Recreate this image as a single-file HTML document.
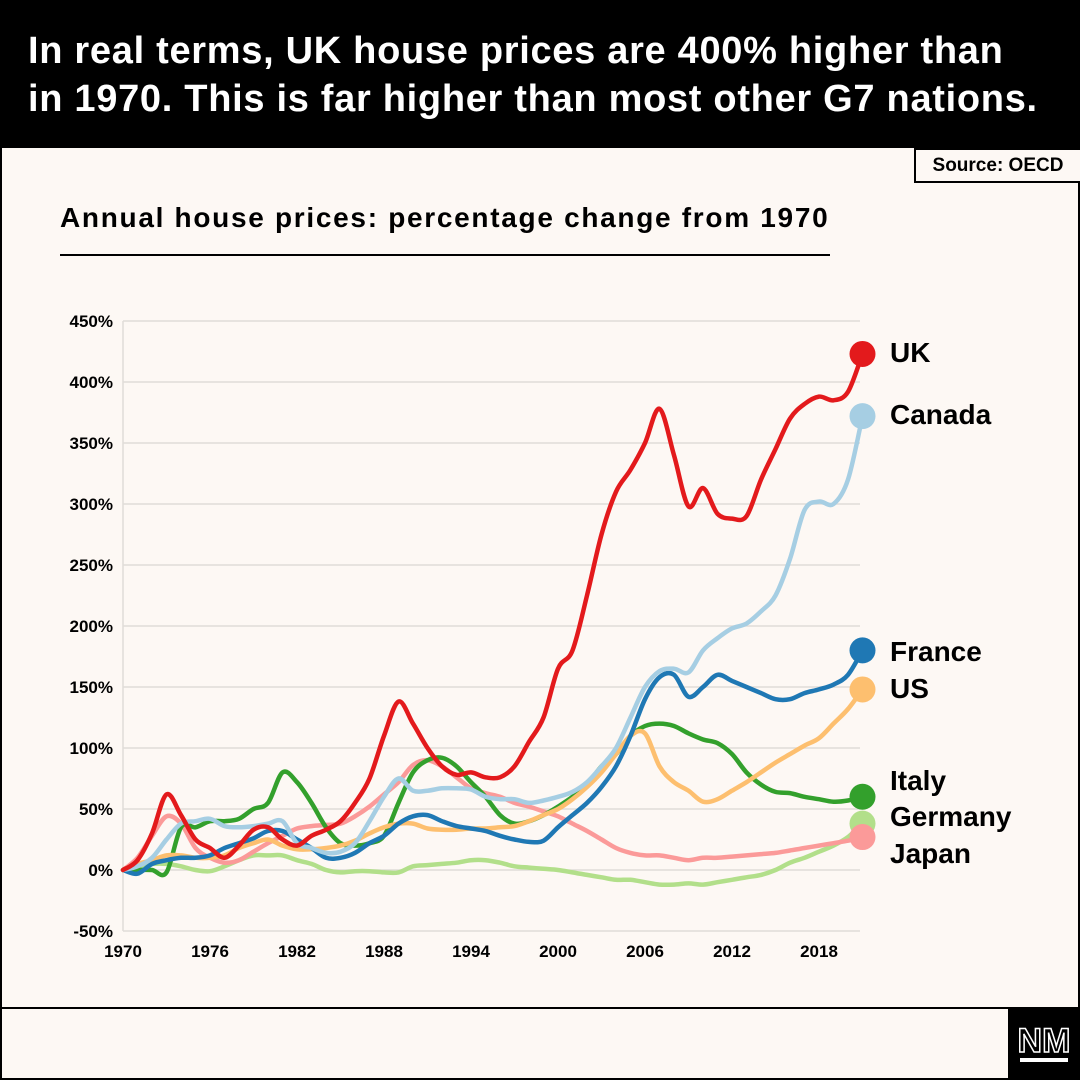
<!DOCTYPE html>
<html><head><meta charset="utf-8"><style>
html,body{margin:0;padding:0;}
body{width:1080px;height:1080px;background:#fdf8f4;font-family:"Liberation Sans",sans-serif;position:relative;overflow:hidden;}
#frame{position:absolute;left:0;top:0;width:1076px;height:1076px;border:2px solid #000;}
#header{position:absolute;left:0;top:0;width:1080px;height:148px;background:#000;}
#title{position:absolute;left:28px;top:27px;color:#fff;font-weight:bold;font-size:38px;line-height:48px;letter-spacing:0.7px;margin:0;white-space:nowrap;}
#source{position:absolute;left:914px;top:148px;width:166px;height:35px;border:2px solid #000;border-right:none;box-sizing:border-box;font-weight:bold;font-size:19px;line-height:31px;text-align:center;background:#fdf8f4;}
#subtitle{position:absolute;left:60px;top:202px;font-weight:bold;font-size:28px;letter-spacing:1.7px;white-space:nowrap;}
#rule{position:absolute;left:60px;top:254px;width:770px;height:2px;background:#000;}
#footer-line{position:absolute;left:0;top:1007px;width:1080px;height:2px;background:#000;}
#logo{position:absolute;left:1008px;top:1008px;width:72px;height:72px;background:#000;}
svg{position:absolute;left:0;top:0;}
</style></head><body>
<div id="frame"></div>
<div id="header"><h1 id="title">In real terms, UK house prices are 400% higher than<br>in 1970. This is far higher than most other G7 nations.</h1></div>
<div id="source">Source: OECD</div>
<div id="subtitle">Annual house prices: percentage change from 1970</div>
<div id="rule"></div>
<div id="footer-line"></div>
<div id="logo">
<svg width="72" height="72" viewBox="0 0 72 72"><text x="36" y="44" text-anchor="middle" font-family="Liberation Sans" font-weight="bold" font-size="34" fill="#000" stroke="#fff" stroke-width="1.5">NM</text><rect x="12" y="50" width="48" height="4" fill="#fff"/></svg>
</div>
<svg id="chart" width="1080" height="1080"></svg>
<script>
const years = [];
for (let y = 1970; y <= 2021; y++) years.push(y);
const yTicks = [-50,0,50,100,150,200,250,300,350,400,450];
const xTicks = [1970,1976,1982,1988,1994,2000,2006,2012,2018];
const seriesNames = ["Germany","Japan","Italy","US","France","Canada","UK"];
const ukValues = [0,8,30,62,45,25,18,10,20,33, 35,25,20,28,33,40,55,75,110,138, 120,100,85,78,80,76,76,85,105,125, 165,180,225,275,310,328,350,378,340,298, 313,292,288,290,320,345,370,382,388,385, 392,423];
const canadaValues = [0,3,10,25,38,40,42,36,35,36, 38,40,22,18,14,15,22,40,60,75, 65,65,67,67,66,60,58,58,55,57, 60,64,72,85,100,125,150,163,165,162, 180,190,198,202,212,225,255,295,302,300, 320,372];
const franceValues = [0,-3,5,8,10,10,12,18,22,26, 32,32,25,18,10,10,14,22,28,38, 44,45,40,36,34,32,28,25,23,24, 35,45,55,68,85,110,140,158,160,142, 150,160,155,150,145,140,140,145,148,152, 160,180];
const usValues = [0,5,8,12,12,10,10,12,18,22, 25,20,17,17,18,20,24,30,35,38, 38,34,33,33,34,34,35,36,40,45, 50,58,68,80,95,110,112,85,72,65, 56,58,65,72,80,88,95,102,108,120, 132,148];
const italyValues = [0,0,0,-2,35,35,40,40,42,50, 55,80,72,55,35,22,20,22,28,55, 80,90,92,85,72,60,45,38,40,45, 52,60,70,85,95,110,118,120,118,112, 107,104,95,80,70,64,63,60,58,56, 57,60];
const germanyValues = [0,3,5,5,3,0,-1,3,8,12, 12,12,8,5,0,-2,-1,-1,-2,-2, 3,4,5,6,8,8,6,3,2,1, 0,-2,-4,-6,-8,-8,-10,-12,-12,-11, -12,-10,-8,-6,-4,0,6,10,15,20, 27,38];
const japanValues = [0,10,28,44,38,18,10,6,8,15, 22,28,34,36,37,38,44,52,62,72, 86,90,85,76,67,63,60,55,52,48, 44,38,32,25,18,14,12,12,10,8, 10,10,11,12,13,14,16,18,20,22, 24,27];
const seriesColors = {UK:"#e31a1c",Canada:"#a6cee3",France:"#1f78b4",US:"#fdbf6f",Italy:"#33a02c",Germany:"#b2df8a",Japan:"#fb9a99"};
const seriesData = {UK:ukValues,Canada:canadaValues,France:franceValues,US:usValues,Italy:italyValues,Germany:germanyValues,Japan:japanValues};
const labelY = {UK:352,Canada:414,France:651,US:688,Italy:780,Germany:816,Japan:853};

const NS="http://www.w3.org/2000/svg";
const svg=document.getElementById('chart');
const X=y=>123+(y-1970)*14.5;
const Y=v=>870-v*1.22;
function mk(t,a){const e=document.createElementNS(NS,t);for(const k in a)e.setAttribute(k,a[k]);svg.appendChild(e);return e;}

yTicks.forEach(t=>{
  if(t>-50){const g=mk('line',{x1:123,x2:860,y1:Y(t),y2:Y(t),stroke:'#e0dcd8','stroke-width':1.5});
  
  }
  const l=mk('text',{x:113,y:Y(t)+6,'text-anchor':'end','font-size':17,'font-weight':'bold','font-family':'Liberation Sans'});
  l.textContent=t+'%';
  
  
});
const ax=mk('line',{x1:123,x2:860,y1:Y(-50),y2:Y(-50),stroke:'#e0dcd8','stroke-width':1.5});


const ay=mk('line',{x1:123,x2:123,y1:Y(450),y2:Y(-50),stroke:'#e0dcd8','stroke-width':1.5});


xTicks.forEach(t=>{
  const l=mk('text',{x:X(t),y:957,'text-anchor':'middle','font-size':17,'font-weight':'bold','font-family':'Liberation Sans'});
  l.textContent=t;
  
  
});
function smooth(pts){
  let d='M'+pts[0][0]+','+pts[0][1];
  for(let i=0;i<pts.length-1;i++){
    const p0=pts[Math.max(i-1,0)],p1=pts[i],p2=pts[i+1],p3=pts[Math.min(i+2,pts.length-1)];
    const c1=[p1[0]+(p2[0]-p0[0])/6,p1[1]+(p2[1]-p0[1])/6];
    const c2=[p2[0]-(p3[0]-p1[0])/6,p2[1]-(p3[1]-p1[1])/6];
    d+=' C'+c1[0].toFixed(1)+','+c1[1].toFixed(1)+' '+c2[0].toFixed(1)+','+c2[1].toFixed(1)+' '+p2[0].toFixed(1)+','+p2[1].toFixed(1);
  }
  return d;
}
seriesNames.forEach(n=>{
  const vals=seriesData[n];
  const pts=vals.map((v,i)=>[X(years[i]),Y(v)]);
  const p=mk('path',{d:smooth(pts),fill:'none',stroke:seriesColors[n],'stroke-width':4.5,'stroke-linejoin':'round','stroke-linecap':'round'});
  
  
});
seriesNames.forEach(n=>{
  const vals=seriesData[n];
  const c=mk('circle',{cx:X(years[years.length-1]),cy:Y(vals[vals.length-1]),r:13,fill:seriesColors[n]});
  
  
  const t=mk('text',{x:890,y:labelY[n]+10,'font-size':28,'font-weight':'bold','font-family':'Liberation Sans'});
  t.textContent=n;
  
  
});
</script>
</body></html>
